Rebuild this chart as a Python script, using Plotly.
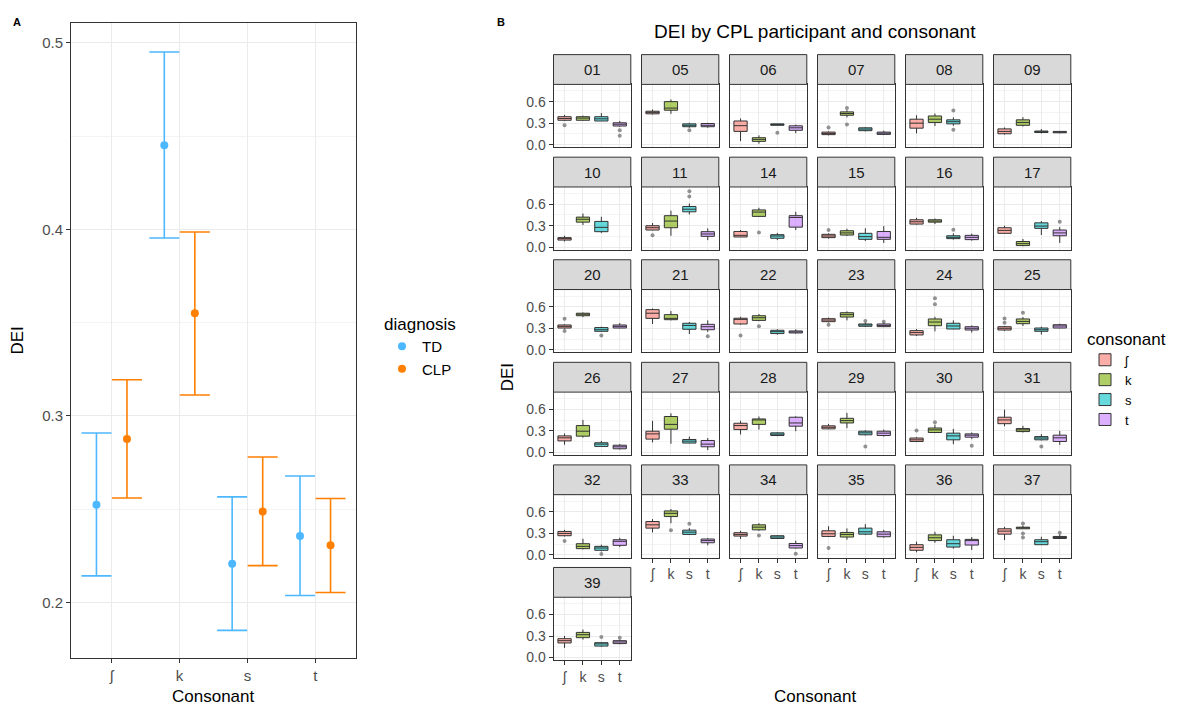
import plotly.graph_objects as go

W, H = 1192, 709


def fx(p):
    return p / W


def fy(p):
    return 1 - p / H


FONT = "Liberation Sans, Arial, sans-serif"

# ---------------- Panel A data ----------------
CONSONANTS = ["ʃ", "k", "s", "t"]
DIAGNOSIS = ["TD", "CLP"]
DIAG_COLORS = ["#4DB8FF", "#FF8000"]
TD_MEAN = [0.2523, 0.4452, 0.2207, 0.2356]
TD_UPPER = [0.2908, 0.4952, 0.2566, 0.2678]
TD_LOWER = [0.2142, 0.3954, 0.1850, 0.2037]
CLP_MEAN = [0.2876, 0.3550, 0.2488, 0.2307]
CLP_UPPER = [0.3194, 0.3986, 0.2780, 0.2557]
CLP_LOWER = [0.2560, 0.3112, 0.2197, 0.2053]

# ---------------- Panel B data ----------------
PARTICIPANTS = ["01", "05", "06", "07", "08", "09", "10", "11", "14", "15", "16",
                "17", "20", "21", "22", "23", "24", "25", "26", "27", "28", "29",
                "30", "31", "32", "33", "34", "35", "36", "37", "39"]
CONS_COLORS = ["rgba(248,118,109,0.6)", "rgba(124,174,0,0.6)",
               "rgba(0,191,196,0.6)", "rgba(199,124,255,0.6)"]

# per participant: [ʃ, k, s, t]
LOWER = [
    [0.33, 0.335, 0.33, 0.25], [0.42, 0.43, 0.235, 0.235], [0.05, 0.014, 0.27, 0.16],
    [0.13, 0.38, 0.185, 0.134], [0.157, 0.26, 0.263, None], [0.14, 0.254, 0.157, 0.157],
    [0.08, 0.31, 0.2, None], [0.235, 0.16, 0.457, 0.1], [0.143, 0.425, 0.1, 0.24],
    [0.12, 0.157, 0.088, 0.06], [0.314, 0.323, 0.106, 0.092], [0.19, 0.014, 0.17, 0.06],
    [0.295, 0.456, 0.253, 0.3], [0.36, 0.41, 0.22, 0.25], [0.35, 0.4, 0.212, 0.226],
    [0.383, 0.41, 0.318, 0.318], [0.194, 0.258, 0.286, 0.24], [0.263, 0.332, 0.212, 0.3],
    [0.106, 0.207, 0.078, 0.04], [0.14, 0.12, 0.125, 0.032], [0.25, 0.318, 0.226, 0.295],
    [0.323, 0.337, 0.235, 0.22], [0.143, 0.268, 0.115, 0.185], [0.365, 0.277, 0.166, 0.106],
    [0.258, 0.078, 0.05, 0.11], [0.314, 0.443, 0.277, 0.134], [0.222, 0.337, 0.222, 0.088],
    [0.25, 0.212, 0.277, 0.24], [0.037, 0.17, 0.088, 0.07], [0.207, 0.365, 0.14, 0.226],
    [0.134, 0.25, 0.148, 0.185],
]
Q1 = [
    [0.34, 0.34, 0.33, 0.26], [0.43, 0.48, 0.25, 0.25], [0.185, 0.046, 0.27, 0.2],
    [0.14, 0.41, 0.195, 0.143], [0.23, 0.31, 0.29, None], [0.152, 0.27, 0.17, 0.166],
    [0.1, 0.35, 0.217, None], [0.24, 0.272, 0.494, 0.152], [0.143, 0.43, 0.125, 0.28],
    [0.134, 0.17, 0.11, 0.11], [0.323, 0.35, 0.12, 0.106], [0.194, 0.023, 0.263, 0.16],
    [0.304, 0.475, 0.258, 0.304], [0.438, 0.42, 0.286, 0.28], [0.36, 0.41, 0.226, 0.235],
    [0.392, 0.457, 0.328, 0.323], [0.207, 0.336, 0.29, 0.276], [0.276, 0.364, 0.258, 0.304],
    [0.16, 0.226, 0.083, 0.05], [0.185, 0.323, 0.13, 0.078], [0.318, 0.39, 0.235, 0.365],
    [0.328, 0.41, 0.245, 0.235], [0.152, 0.277, 0.175, 0.212], [0.4, 0.29, 0.175, 0.152],
    [0.268, 0.088, 0.065, 0.134], [0.374, 0.535, 0.286, 0.17], [0.263, 0.35, 0.23, 0.097],
    [0.258, 0.25, 0.29, 0.254], [0.065, 0.2, 0.11, 0.138], [0.29, 0.365, 0.143, 0.23],
    [0.203, 0.277, 0.16, 0.194],
]
MEDIAN = [
    [0.365, 0.37, 0.36, 0.285], [0.45, 0.51, 0.27, 0.27], [0.265, 0.074, 0.28, 0.235],
    [0.157, 0.434, 0.217, 0.16], [0.3, 0.355, 0.32, None], [0.185, 0.31, 0.18, 0.175],
    [0.12, 0.39, 0.277, None], [0.272, 0.365, 0.53, 0.185], [0.166, 0.49, 0.157, 0.415],
    [0.157, 0.2, 0.148, 0.138], [0.355, 0.365, 0.138, 0.138], [0.235, 0.05, 0.295, 0.2],
    [0.327, 0.5, 0.28, 0.327], [0.51, 0.438, 0.34, 0.322], [0.424, 0.447, 0.253, 0.25],
    [0.415, 0.49, 0.346, 0.34], [0.24, 0.387, 0.332, 0.3], [0.3, 0.396, 0.28, 0.332],
    [0.203, 0.295, 0.115, 0.078], [0.258, 0.39, 0.157, 0.115], [0.374, 0.452, 0.254, 0.41],
    [0.35, 0.443, 0.272, 0.268], [0.175, 0.314, 0.23, 0.24], [0.452, 0.314, 0.2, 0.203],
    [0.3, 0.12, 0.097, 0.19], [0.42, 0.58, 0.318, 0.2], [0.286, 0.387, 0.25, 0.13],
    [0.295, 0.286, 0.323, 0.29], [0.106, 0.24, 0.157, 0.2], [0.332, 0.378, 0.185, 0.245],
    [0.235, 0.318, 0.19, 0.217],
]
Q3 = [
    [0.39, 0.39, 0.39, 0.305], [0.466, 0.6, 0.29, 0.295], [0.33, 0.097, 0.29, 0.263],
    [0.175, 0.457, 0.235, 0.175], [0.355, 0.4, 0.346, None], [0.22, 0.346, 0.19, 0.185],
    [0.134, 0.42, 0.36, None], [0.3, 0.44, 0.568, 0.217], [0.22, 0.52, 0.175, 0.44],
    [0.18, 0.23, 0.194, 0.22], [0.383, 0.383, 0.16, 0.166], [0.272, 0.08, 0.34, 0.24],
    [0.346, 0.51, 0.31, 0.346], [0.56, 0.49, 0.37, 0.355], [0.44, 0.475, 0.272, 0.263],
    [0.434, 0.517, 0.36, 0.36], [0.267, 0.43, 0.37, 0.322], [0.322, 0.43, 0.304, 0.35],
    [0.23, 0.374, 0.134, 0.1], [0.295, 0.5, 0.18, 0.166], [0.406, 0.466, 0.272, 0.49],
    [0.37, 0.475, 0.295, 0.295], [0.2, 0.34, 0.268, 0.258], [0.49, 0.332, 0.22, 0.24],
    [0.328, 0.157, 0.12, 0.212], [0.466, 0.614, 0.346, 0.222], [0.31, 0.42, 0.268, 0.16],
    [0.337, 0.314, 0.374, 0.323], [0.143, 0.28, 0.212, 0.217], [0.365, 0.387, 0.212, 0.258],
    [0.263, 0.35, 0.207, 0.235],
]
UPPER = [
    [0.415, 0.405, 0.44, 0.33], [0.49, 0.63, 0.305, 0.305], [0.365, 0.13, 0.29, 0.28],
    [0.185, 0.48, 0.245, 0.195], [0.41, 0.434, 0.38, None], [0.24, 0.383, 0.217, 0.185],
    [0.16, 0.47, 0.425, None], [0.337, 0.51, 0.61, 0.263], [0.24, 0.55, 0.2, 0.494],
    [0.194, 0.258, 0.263, 0.295], [0.41, 0.4, 0.194, 0.19], [0.3, 0.115, 0.365, 0.28],
    [0.355, 0.52, 0.322, 0.373], [0.576, 0.54, 0.387, 0.41], [0.46, 0.5, 0.286, 0.286],
    [0.45, 0.535, 0.378, 0.378], [0.29, 0.46, 0.41, 0.34], [0.332, 0.456, 0.322, 0.364],
    [0.263, 0.452, 0.16, 0.115], [0.44, 0.545, 0.22, 0.2], [0.44, 0.5, 0.28, 0.503],
    [0.397, 0.55, 0.31, 0.318], [0.212, 0.387, 0.327, 0.277], [0.595, 0.37, 0.254, 0.3],
    [0.35, 0.226, 0.143, 0.24], [0.5, 0.64, 0.374, 0.235], [0.337, 0.443, 0.277, 0.2],
    [0.4, 0.37, 0.43, 0.35], [0.185, 0.323, 0.268, 0.25], [0.392, 0.41, 0.254, 0.286],
    [0.3, 0.39, 0.217, 0.25],
]
OUTLIERS = [
    [[0.27], [], [], [0.2, 0.125]], [[], [], [0.2], []], [[], [], [0.165], []],
    [[0.24], [0.51, 0.28], [], []], [[], [], [0.475, 0.207], []], [[], [], [], []],
    [[], [], [], []], [[0.166], [], [0.706, 0.78], []], [[], [0.207], [], []],
    [[0.24], [], [], []], [[], [], [0.245], []], [[], [], [], [0.355]],
    [[0.433, 0.263], [], [0.2], []], [[], [], [], [0.19]], [[0.2], [0.327], [], []],
    [[0.35], [], [0.4], [0.39]], [[], [0.636, 0.72], [], []], [[0.378, 0.438], [0.516], [], []],
    [[], [], [], []], [[], [], [], []], [[], [], [], []],
    [[], [], [0.083], []], [[0.305], [0.42], [], [0.092]], [[], [], [0.083], []],
    [[0.194], [], [0.014], []], [[], [0.346], [0.434], []], [[], [0.272], [], [0.018]],
    [[0.097], [], [], []], [[], [], [], []], [[], [0.44, 0.3, 0.245], [], [0.31]],
    [[], [], [0.286], [0.277]],
]

fig = go.Figure()

# ---------------- Panel A ----------------
DODGE = 0.225
groups = [(TD_MEAN, TD_UPPER, TD_LOWER, -DODGE), (CLP_MEAN, CLP_UPPER, CLP_LOWER, DODGE)]
for gi, (mean, up, lo, off) in enumerate(groups):
    xs = [i + off for i in range(len(CONSONANTS))]
    fig.add_trace(go.Scatter(
        x=xs, y=mean, mode="markers", name=DIAGNOSIS[gi],
        marker=dict(color=DIAG_COLORS[gi], size=8),
        error_y=dict(type="data", symmetric=False,
                     array=[u - m for u, m in zip(up, mean)],
                     arrayminus=[m - l for m, l in zip(mean, lo)],
                     color=DIAG_COLORS[gi], thickness=1.6, width=15),
        xaxis="x", yaxis="y", legend="legend",
    ))

layout = dict(
    width=W, height=H, autosize=False,
    margin=dict(l=0, r=0, t=0, b=0),
    paper_bgcolor="white", plot_bgcolor="white",
    font=dict(family=FONT, color="#1A1A1A"),
    boxmode="overlay",
)

GRID = "#EBEBEB"
MINOR_GRID = "#F4F4F4"
TICKFONT = dict(family=FONT, size=15, color="#4D4D4D")

layout["xaxis"] = dict(
    domain=[fx(71), fx(356)], anchor="y", range=[-0.6, 3.6],
    tickmode="array", tickvals=list(range(len(CONSONANTS))), ticktext=CONSONANTS,
    showgrid=True, gridcolor=GRID, gridwidth=1, zeroline=False,
    showline=True, mirror=True, linecolor="#333333", linewidth=1,
    ticks="outside", ticklen=4, tickcolor="#333333", tickfont=TICKFONT,
)
layout["yaxis"] = dict(
    domain=[fy(663), fy(23)], anchor="x", range=[0.17, 0.5108],
    tickmode="array", tickvals=[0.2, 0.3, 0.4, 0.5], ticktext=["0.2", "0.3", "0.4", "0.5"],
    showgrid=True, gridcolor=GRID, gridwidth=1, zeroline=False,
    showline=True, mirror=True, linecolor="#333333", linewidth=1,
    ticks="outside", ticklen=4, tickcolor="#333333", tickfont=TICKFONT,
    minor=dict(tickmode="array", tickvals=[0.25, 0.35, 0.45], showgrid=True,
               gridcolor=MINOR_GRID, gridwidth=1, ticks=""),
)

# ---------------- Panel B ----------------
NCOL = 6
COL_LEFT0, COL_STRIDE, PANEL_W = 553.5, 88.0, 77.3
ROW_TOP0, ROW_STRIDE, STRIP_H, PANEL_H = 55.0, 103.3, 30.0, 63.3
FACET_TICKFONT = dict(family=FONT, size=14, color="#4D4D4D")

shapes = []
annotations = []
n_f = len(PARTICIPANTS)
for f, pid in enumerate(PARTICIPANTS):
    n = f + 2
    r, c = divmod(f, NCOL)
    left = COL_LEFT0 + c * COL_STRIDE
    strip_top = ROW_TOP0 + r * ROW_STRIDE
    ptop = strip_top + STRIP_H
    pbot = ptop + PANEL_H
    bottom = f + NCOL >= n_f
    first_col = c == 0

    layout[f"xaxis{n}"] = dict(
        domain=[fx(left), fx(left + PANEL_W)], anchor=f"y{n}",
        type="category", categoryorder="array", categoryarray=CONSONANTS,
        range=[-0.6, 3.6], showgrid=True, gridcolor=GRID, gridwidth=1,
        showline=True, mirror=True, linecolor="#333333", linewidth=1,
        ticks="outside" if bottom else "", ticklen=4, tickcolor="#333333",
        showticklabels=bottom, tickfont=FACET_TICKFONT, zeroline=False,
    )
    layout[f"yaxis{n}"] = dict(
        domain=[fy(pbot), fy(ptop)], anchor=f"x{n}", range=[-0.036, 0.84],
        tickmode="array", tickvals=[0, 0.3, 0.6], ticktext=["0.0", "0.3", "0.6"],
        showgrid=True, gridcolor=GRID, gridwidth=1, zeroline=False,
        showline=True, mirror=True, linecolor="#333333", linewidth=1,
        ticks="outside" if first_col else "", ticklen=4, tickcolor="#333333",
        showticklabels=first_col, tickfont=FACET_TICKFONT,
        minor=dict(tickmode="array", tickvals=[0.15, 0.45, 0.75], showgrid=True,
                   gridcolor=MINOR_GRID, gridwidth=1, ticks=""),
    )

    shapes.append(dict(
        type="rect", xref="paper", yref="paper",
        x0=fx(left), x1=fx(left + PANEL_W), y0=fy(ptop), y1=fy(strip_top),
        fillcolor="#D9D9D9", line=dict(color="#333333", width=1), layer="above",
    ))
    annotations.append(dict(
        text=pid, xref="paper", yref="paper",
        x=fx(left + PANEL_W / 2), y=fy(strip_top + STRIP_H / 2),
        xanchor="center", yanchor="middle", showarrow=False,
        font=dict(family=FONT, size=15, color="#1A1A1A"),
    ))

    for ci, cons in enumerate(CONSONANTS):
        if Q1[f][ci] is None:
            continue
        fig.add_trace(go.Box(
            x=[cons], q1=[Q1[f][ci]], median=[MEDIAN[f][ci]], q3=[Q3[f][ci]],
            lowerfence=[LOWER[f][ci]], upperfence=[UPPER[f][ci]],
            fillcolor=CONS_COLORS[ci], line=dict(color="#333333", width=1),
            width=0.72, whiskerwidth=0, name=cons, legendgroup=cons,
            showlegend=(f == 0), legend="legend2",
            xaxis=f"x{n}", yaxis=f"y{n}", hoverinfo="y",
        ))
        outs = OUTLIERS[f][ci]
        if outs:
            fig.add_trace(go.Scatter(
                x=[cons] * len(outs), y=outs, mode="markers", showlegend=False,
                marker=dict(color="rgba(90,90,90,0.65)", size=4),
                xaxis=f"x{n}", yaxis=f"y{n}",
            ))

# titles / labels
annotations += [
    dict(text="<b>A</b>", x=fx(11), y=fy(22), xanchor="left", yanchor="middle",
         font=dict(size=11, color="black")),
    dict(text="<b>B</b>", x=fx(495), y=fy(22), xanchor="left", yanchor="middle",
         font=dict(size=11, color="black")),
    dict(text="DEI", x=fx(18), y=fy(343), textangle=-90, xanchor="center", yanchor="middle",
         font=dict(size=17, color="black")),
    dict(text="Consonant", x=fx(213), y=fy(701), xanchor="center", yanchor="middle",
         font=dict(size=17, color="black")),
    dict(text="DEI by CPL participant and consonant", x=fx(815), y=fy(32),
         xanchor="center", yanchor="middle", font=dict(size=19, color="black")),
    dict(text="DEI", x=fx(507), y=fy(380), textangle=-90, xanchor="center", yanchor="middle",
         font=dict(size=17, color="black")),
    dict(text="Consonant", x=fx(815), y=fy(701), xanchor="center", yanchor="middle",
         font=dict(size=17, color="black")),
]
for a in annotations:
    a.setdefault("xref", "paper")
    a.setdefault("yref", "paper")
    a.setdefault("showarrow", False)

layout["shapes"] = shapes
layout["annotations"] = annotations
layout["legend"] = dict(
    x=fx(382), y=fy(310), xanchor="left", yanchor="top",
    title=dict(text="diagnosis", font=dict(size=17, color="black", family=FONT)),
    font=dict(size=15, color="black", family=FONT), tracegroupgap=0,
    bgcolor="rgba(0,0,0,0)", itemwidth=30,
)
layout["legend2"] = dict(
    x=fx(1085), y=fy(325), xanchor="left", yanchor="top",
    title=dict(text="consonant", font=dict(size=17, color="black", family=FONT)),
    font=dict(size=13, color="black", family=FONT), tracegroupgap=0,
    bgcolor="rgba(0,0,0,0)", itemwidth=30,
)

fig.update_layout(**layout)
fig.write_html(
    "out.html",
    config={"displayModeBar": False},
    post_script="document.body.style.margin='0';document.body.style.padding='0';",
)
